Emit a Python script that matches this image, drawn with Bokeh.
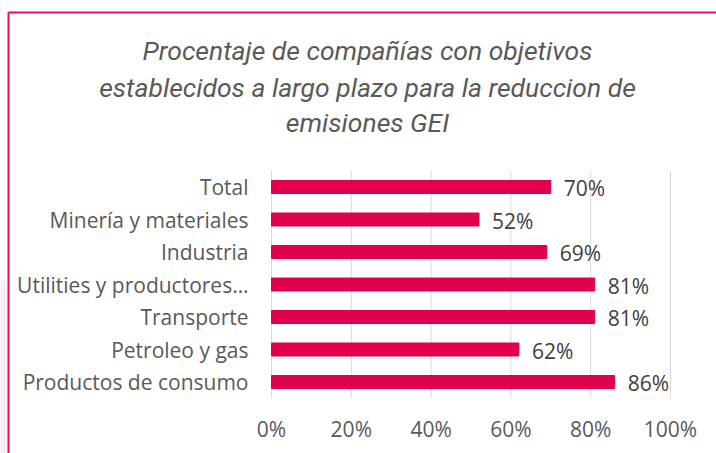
from bokeh.plotting import figure
from bokeh.models import Range1d
from bokeh.embed import file_html
from bokeh.resources import INLINE
from bokeh.core.properties import value

categories = ["Total", "Minería y materiales", "Industria", "Utilities y productores…",
              "Transporte", "Petroleo y gas", "Productos de consumo"]
values = [70, 52, 69, 81, 81, 62, 86]
value_labels = [f"{v}%" for v in values]
tick_values = [0, 20, 40, 60, 80, 100]
tick_labels = ["0%", "20%", "40%", "60%", "80%", "100%"]
title_lines = ["Procentaje de compañías con objetivos",
               "establecidos a largo plazo para la reduccion de",
               "emisiones GEI"]

BAR = "#E0004D"
FONT = "Open Sans"
W, H = 716, 453

# pixel layout of the plotting area (canvas pixels)
X0_PX, PX_PER_UNIT = 271, 3.99        # x of 0 %, pixels per 1 %
ROW0_PX, ROW_PX = 186.5, 32.5         # centre of first row, row spacing


def xd(px):
    return (px - X0_PX) / PX_PER_UNIT


def yd(py):
    return (py - ROW0_PX) / ROW_PX


rows = list(range(len(categories)))

p = figure(width=W, height=H, output_backend="svg", toolbar_location=None,
           x_range=Range1d(xd(0), xd(W)), y_range=Range1d(yd(H), yd(0)),
           x_axis_location=None, y_axis_location=None,
           min_border=0, min_border_left=0, min_border_right=0,
           min_border_top=0, min_border_bottom=0)
p.outline_line_color = None
p.grid.visible = False
p.background_fill_color = "white"
p.border_fill_color = "white"

# faint pink outside the frame border on the left
p.quad(left=[xd(0)], right=[xd(6)], top=[yd(280)], bottom=[yd(H)],
       fill_color="#FBE3EB", fill_alpha=0.7, line_color=None)

# vertical gridlines at the ticks
row_top, row_bottom = -0.5, len(categories) - 0.5
p.segment(x0=tick_values, x1=tick_values, y0=row_top, y1=row_bottom,
          line_color="#D9D9D9", line_width=1)

# bars
p.hbar(y=rows, right=values, left=0, height=0.4, color=BAR)

# data labels
p.text(x=values, y=rows, text=value_labels, x_offset=13, y_offset=1,
       text_baseline="middle", text_align="left",
       text_font=value(FONT), text_font_size="21px", text_color="#404040")

# category labels
p.text(x=[0] * len(categories), y=rows, text=categories, x_offset=-23, y_offset=0,
       text_baseline="middle", text_align="right",
       text_font=value(FONT), text_font_size="21px", text_color="#595959")

# tick labels
p.text(x=tick_values, y=[row_bottom] * len(tick_values), text=tick_labels, y_offset=31,
       text_baseline="middle", text_align="center",
       text_font=value(FONT), text_font_size="21px", text_color="#595959")

# title
title_y_px = [50, 87, 122]
p.text(x=[xd(367)] * 3, y=[yd(v) for v in title_y_px], text=title_lines,
       text_baseline="middle", text_align="center",
       text_font=value("Roboto"), text_font_style="italic",
       text_font_size="26.5px", text_color="#595959")

# chart-area border (top and left edges visible)
p.segment(x0=[xd(8), xd(8)], y0=[yd(12), yd(12)], x1=[xd(W + 5), xd(8)], y1=[yd(12), yd(H + 5)],
          line_color=BAR, line_width=2, line_alpha=0.95)

open("out.html", "w").write(file_html(p, INLINE))
